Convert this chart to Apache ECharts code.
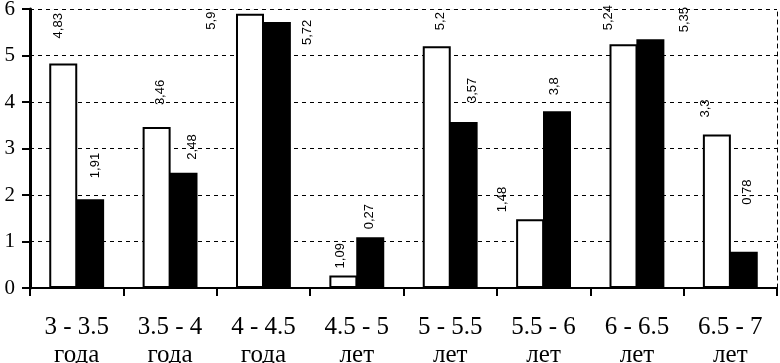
<!DOCTYPE html>
<html>
<head>
<meta charset="utf-8">
<script src="https://cdn.jsdelivr.net/npm/echarts@6/dist/echarts.min.js"></script>
<style>
  html, body { margin: 0; padding: 0; background: #fff; }
  #main { width: 780px; height: 363px; }
</style>
</head>
<body>
<div id="main"></div>
<script>
// категории по возрасту
var categories = ['3 - 3.5\nгода', '3.5 - 4\nгода', '4 - 4.5\nгода', '4.5 - 5\nлет',
                  '5 - 5.5\nлет', '5.5 - 6\nлет', '6 - 6.5\nлет', '6.5 - 7\nлет'];
// высоты столбиков
var whiteValues = [4.83, 3.46, 5.9, 0.27, 5.2, 1.48, 5.24, 3.3];
var blackValues = [1.91, 2.48, 5.72, 1.09, 3.57, 3.8, 5.35, 0.78];
// подписи как на рисунке
var whiteLabels = ['4,83', '3,46', '5,9', '1,09', '5,2', '1,48', '5,24', '3,3'];
var blackLabels = ['1,91', '2,48', '5,72', '0,27', '3,57', '3,8', '5,35', '0,78'];
var yTicks = [0, 1, 2, 3, 4, 5, 6];

// смещения подписей относительно верхнего левого угла столбика
var whiteLabelPos = [[9, -25], [18, -22], [-25, 16], [11, -7], [18, -16], [-14, -7], [-1, -14], [3, -17]];
var blackLabelPos = [[19, -21], [23, -13], [45, 23], [13, -8], [23, -19], [11, -16], [48, -7], [18, -47]];

function buildData(values, labels, pos) {
    var out = [];
    for (var i = 0; i < values.length; i++) {
        out.push({
            value: values[i],
            label: { position: pos[i], formatter: labels[i] }
        });
    }
    return out;
}

var myChart = echarts.init(document.getElementById('main'));

var barLabel = {
    show: true,
    rotate: 90,
    align: 'left',
    verticalAlign: 'middle',
    fontFamily: 'Liberation Sans',
    fontSize: 13,
    color: '#000'
};

option = {
    animation: false,
    backgroundColor: '#fff',
    grid: { left: 30, right: 3, top: 9, bottom: 75, outerBoundsMode: 'none', containLabel: false },
    xAxis: {
        type: 'category',
        data: categories,
        axisLine: { lineStyle: { color: '#000', width: 2 } },
        axisTick: { show: true, length: 8, lineStyle: { color: '#000', width: 2 } },
        axisLabel: {
            color: '#000',
            fontFamily: 'Liberation Serif',
            fontSize: 25,
            lineHeight: 28,
            margin: 25,
            interval: 0
        }
    },
    yAxis: [
        {
            type: 'value',
            min: yTicks[0],
            max: yTicks[yTicks.length - 1],
            interval: 1,
            axisLine: { show: true, lineStyle: { color: '#000', width: 3 } },
            axisTick: { show: true, length: 8, lineStyle: { color: '#000', width: 2 } },
            axisLabel: {
                color: '#000',
                fontFamily: 'Liberation Serif',
                fontSize: 21,
                margin: 15
            },
            splitLine: { show: true, lineStyle: { color: '#000', width: 1, type: [4, 4] } }
        },
        {
            type: 'value',
            position: 'right',
            min: 0,
            max: 6,
            interval: 1,
            axisLine: { show: true, lineStyle: { color: '#000', width: 1, type: [4, 4] } },
            axisTick: { show: false },
            axisLabel: { show: false },
            splitLine: { show: false }
        }
    ],
    series: [
        {
            name: 'white',
            type: 'bar',
            barWidth: 28,
            barGap: '-4%',
            itemStyle: { color: '#fff', borderColor: '#000', borderWidth: 2 },
            label: barLabel,
            data: buildData(whiteValues, whiteLabels, whiteLabelPos)
        },
        {
            name: 'black',
            type: 'bar',
            barWidth: 28,
            itemStyle: { color: '#000' },
            label: barLabel,
            data: buildData(blackValues, blackLabels, blackLabelPos)
        }
    ]
};
myChart.setOption(option);
</script>
</body>
</html>
